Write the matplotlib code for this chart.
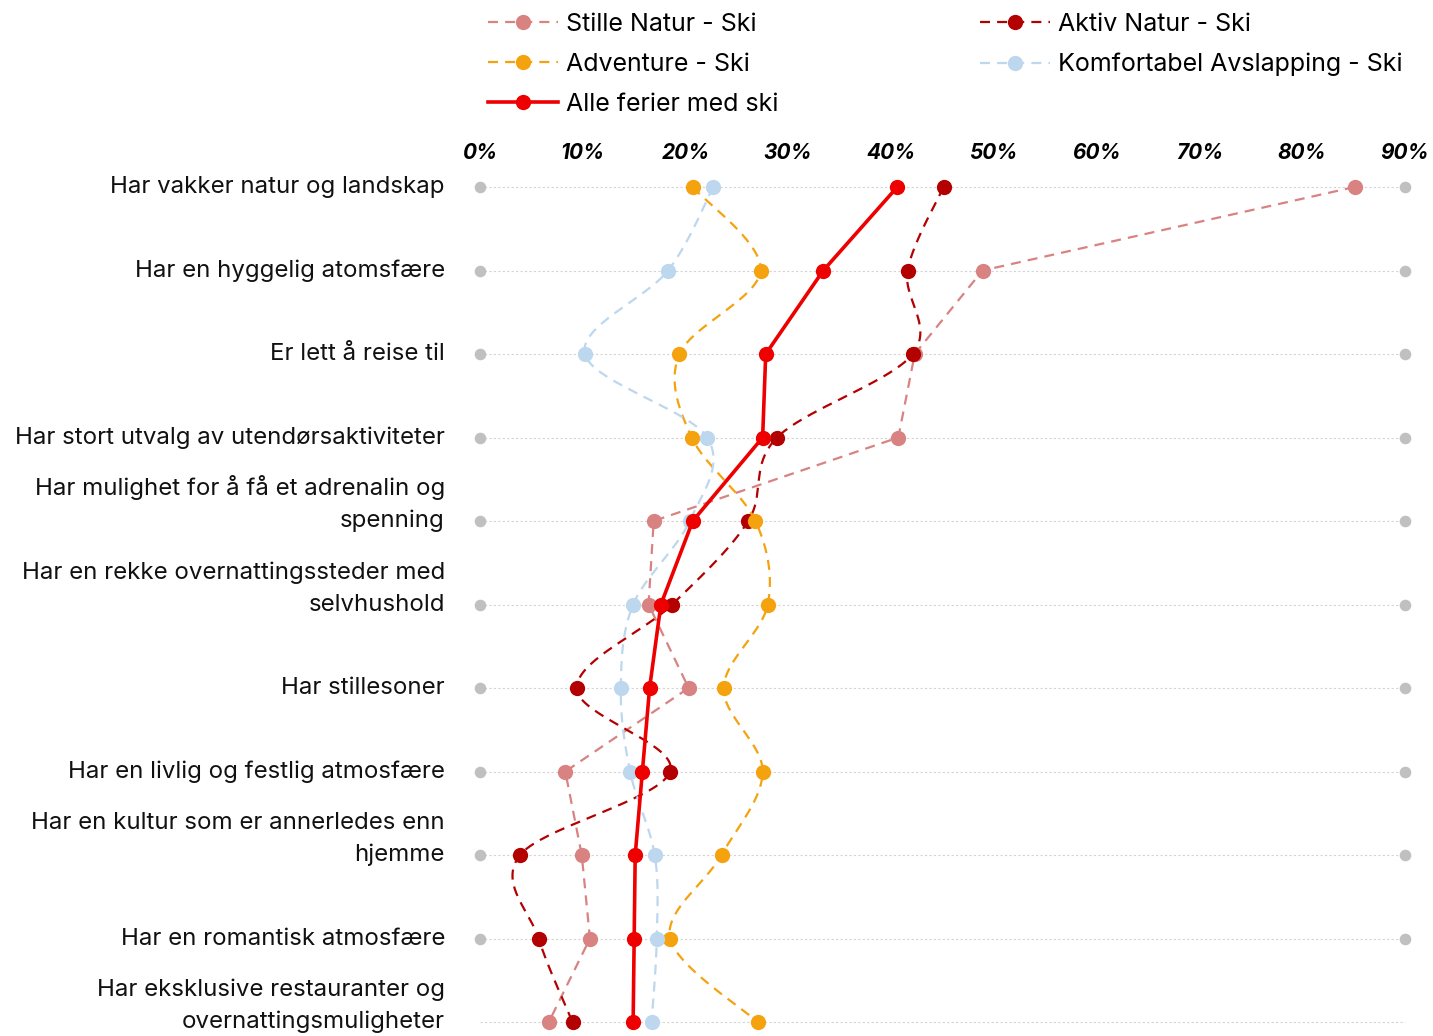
import numpy as np
import matplotlib
matplotlib.use("Agg")
import matplotlib.pyplot as plt
import matplotlib.transforms as mtransforms
from matplotlib.lines import Line2D

plt.rcParams["font.family"] = ["Inter", "DejaVu Sans"]

categories = [
    "Har vakker natur og landskap",
    "Har en hyggelig atomsfære",
    "Er lett å reise til",
    "Har stort utvalg av utendørsaktiviteter",
    "Har mulighet for å få et adrenalin og\nspenning",
    "Har en rekke overnattingssteder med\nselvhushold",
    "Har stillesoner",
    "Har en livlig og festlig atmosfære",
    "Har en kultur som er annerledes enn\nhjemme",
    "Har en romantisk atmosfære",
    "Har eksklusive restauranter og\novernattingsmuligheter",
]

stille_natur = [85.1, 48.9, 42.3, 40.7, 16.9, 16.4, 20.3, 8.3, 9.9, 10.7, 6.7]
aktiv_natur = [45.1, 41.6, 42.1, 28.9, 26.1, 18.7, 9.4, 18.5, 3.9, 5.7, 9.0]
adventure = [20.7, 27.3, 19.4, 20.6, 26.8, 28.0, 23.7, 27.5, 23.5, 18.5, 27.0]
komfortabel = [22.7, 18.3, 10.2, 22.1, 20.4, 14.9, 13.7, 14.6, 17.0, 17.2, 16.7]
alle_ferier = [40.6, 33.4, 27.8, 27.5, 20.7, 17.6, 16.5, 15.8, 15.1, 15.0, 14.9]

x_ticks = [0, 10, 20, 30, 40, 50, 60, 70, 80, 90]


def cardinal(xs, ys, n=40):
    # uniform catmull-rom (cardinal, tension 0) with duplicated end points
    P = np.column_stack([xs, ys]).astype(float)
    m = len(P)
    out = []
    for i in range(m - 1):
        p_prev = P[i - 1] if i > 0 else P[i]
        p_next = P[i + 2] if i + 2 < m else P[i + 1]
        b0, b3 = P[i], P[i + 1]
        b1 = b0 + (b3 - p_prev) / 6
        b2 = b3 - (p_next - b0) / 6
        t = np.linspace(0, 1, n)[:, None]
        c = ((1 - t) ** 3 * b0 + 3 * (1 - t) ** 2 * t * b1
             + 3 * (1 - t) * t ** 2 * b2 + t ** 3 * b3)
        out.append(c if i == 0 else c[1:])
    out = np.vstack(out)
    return out[:, 0], out[:, 1]


W, H = 1433, 1036
fig = plt.figure(figsize=(W / 100, H / 100), dpi=100)
ax = fig.add_axes([480 / W, (H - 1022) / H, 925 / W, (1022 - 187) / H])
ax.set_xlim(0, 90)
ax.set_ylim(len(categories) - 1, 0)
for s in ax.spines.values():
    s.set_visible(False)

rows = np.arange(len(categories))

# background rows
for r in rows:
    ax.plot([0, 90], [r, r], ls=(0, (2, 2)), lw=0.8, color="#d4d4d4", zorder=1, clip_on=False)
ax.scatter([0] * 10 + [90] * 10, list(rows[:10]) * 2, s=70, color="#c0c0c0",
           zorder=2, clip_on=False, linewidths=0)

# name, values, colour, zorder, smoothed
series = [
    ("Stille Natur - Ski", stille_natur, "#d98282", 3, False),
    ("Aktiv Natur - Ski", aktiv_natur, "#b30000", 4, True),
    ("Adventure - Ski", adventure, "#f5a20f", 5, True),
    ("Komfortabel Avslapping - Ski", komfortabel, "#bdd7ee", 5, True),
]
handles = {}
for name, vals, col, z, smooth in series:
    if smooth:
        cx, cy = cardinal(vals, rows)
    else:
        cx, cy = vals, rows
    ax.plot(cx, cy, color=col, lw=1.6, ls=(0, (4.5, 3.2)), zorder=z, clip_on=False)
    ax.plot(vals, rows, ls="none", marker="o", ms=11, color=col, mec="none",
            zorder=z + 0.5, clip_on=False)
    handles[name] = Line2D([], [], color=col, lw=1.6, ls=(0, (4.5, 3.2)),
                           marker="o", ms=11, mec="none")

ax.plot(alle_ferier, rows, color="#ee0000", lw=2.6, marker="o", ms=11, mec="none",
        zorder=8, clip_on=False)
handles["Alle ferier med ski"] = Line2D([], [], color="#ee0000", lw=2.6, marker="o",
                                        ms=11, mec="none")

# top tick labels
ax.xaxis.tick_top()
ax.set_xticks(x_ticks)
ax.set_xticklabels([f"{t}%" for t in x_ticks], fontsize=15, fontweight="bold",
                   fontstyle="italic")
ax.tick_params(axis="x", length=0, pad=17)
ax.set_yticks([])

# category labels, last line on the row
trans = mtransforms.blended_transform_factory(fig.transFigure, ax.transData)
for r, cat in zip(rows, categories):
    lines = cat.split("\n")
    for k, line in enumerate(reversed(lines)):
        t = mtransforms.offset_copy(trans, fig=fig, x=0, y=k * 23 - 4.5, units="points")
        ax.text(445 / W, r, line, transform=t, ha="right", va="baseline",
                fontsize=17.3, color="#111111", clip_on=False)

order = ["Stille Natur - Ski", "Adventure - Ski", "Alle ferier med ski",
         "Aktiv Natur - Ski", "Komfortabel Avslapping - Ski"]
fig.legend([handles[k] for k in order], order, loc="upper left",
           bbox_to_anchor=(488 / W, 1 - 13 / H), ncol=2, frameon=False,
           fontsize=18, handlelength=2.8, handletextpad=0.3, columnspacing=8.08,
           labelspacing=0.68, borderpad=0, borderaxespad=0)

fig.savefig("out.png", dpi=100)
